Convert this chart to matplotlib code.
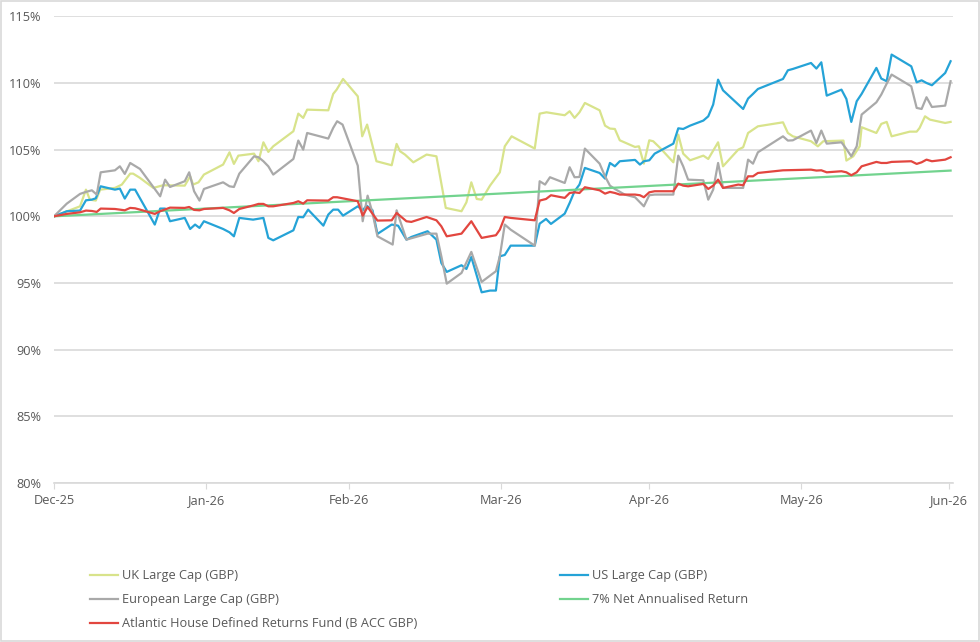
import matplotlib
matplotlib.use("Agg")
import matplotlib.pyplot as plt
from matplotlib.patches import Rectangle
from matplotlib.ticker import FuncFormatter

# x = days since start of period, y = indexed performance (%)
month_days = [0, 31, 60, 91, 121, 152, 182]
month_labels = ['Dec-25', 'Jan-26', 'Feb-26', 'Mar-26', 'Apr-26', 'May-26', 'Jun-26']

uk_days = [0, 5.3, 6.5, 7.3, 8.5, 9.4, 12.4, 13.8, 15.5, 16.1, 17.5, 20.2, 22.2, 26.6, 27.7, 28.3,
           29.4, 30.5, 34.4, 35.7, 36.6, 37.5, 40.7, 41.6, 42.6, 43.6, 44.6, 48.7, 49.7, 50.7, 51.5,
           55.8, 56.8, 57.5, 58.8, 61.8, 62.7, 63.7, 65.6, 68.7, 69.7, 70.4, 71.4, 73.1, 75.8, 77.8,
           79.7, 82.9, 83.9, 84.9, 86.0, 87.0, 88.7, 90.7, 91.7, 93.1, 97.8, 98.8, 100.2, 103.9,
           104.9, 105.9, 106.9, 108.0, 111.0, 112.1, 113.1, 114.1, 115.1, 118.2, 119.0, 120.0,
           121.1, 121.9, 123.3, 126.0, 127.0, 128.0, 129.4, 132.1, 133.1, 135.1, 136.1, 139.2,
           140.2, 141.2, 142.2, 143.2, 148.3, 149.3, 150.3, 154.0, 155.4, 156.5, 160.6, 161.2,
           162.6, 163.9, 164.3, 167.3, 168.3, 169.4, 170.4, 174.1, 175.5, 176.1, 177.2, 178.2,
           181.3, 182.4]
uk_vals = [100.0, 100.75, 102.0, 101.25, 101.18, 102.0, 102.13, 102.38, 103.2, 103.2, 102.88, 102.13,
           102.33, 102.3, 103.0, 102.38, 102.55, 103.13, 103.88, 104.8, 103.93, 104.55, 104.7, 104.13,
           105.55, 104.83, 105.25, 106.38, 107.7, 107.38, 108.0, 107.95, 109.18, 109.5, 110.3, 109.0,
           106.0, 106.88, 104.13, 103.83, 105.43, 104.88, 104.63, 104.05, 104.63, 104.5, 100.63,
           100.38, 101.05, 102.55, 101.3, 101.25, 102.3, 103.3, 105.25, 106.0, 105.08, 107.7, 107.8,
           107.58, 107.88, 107.38, 107.8, 108.5, 107.95, 106.8, 106.58, 106.55, 105.7, 105.2, 105.25,
           103.95, 105.7, 105.63, 105.13, 104.05, 106.13, 104.7, 104.2, 104.55, 104.3, 105.55, 103.75,
           105.0, 105.18, 106.25, 106.5, 106.75, 107.05, 106.25, 106.0, 105.63, 105.25, 105.63,
           105.68, 104.18, 104.5, 105.25, 106.68, 106.25, 106.93, 107.08, 106.0, 106.35, 106.35,
           106.63, 107.5, 107.25, 107.0, 107.08]

us_days = [0, 2.6, 5.3, 6.5, 7.7, 8.5, 9.5, 12.4, 13.4, 14.4, 15.5, 16.5, 18.8, 20.5, 21.6, 22.6,
           23.6, 26.6, 27.7, 28.7, 29.6, 30.5, 34.4, 35.7, 36.6, 37.7, 40.5, 42.6, 43.6, 44.6, 48.7,
           49.7, 50.7, 51.7, 54.8, 55.8, 56.8, 57.8, 58.8, 61.8, 62.8, 63.6, 64.8, 65.8, 68.7, 70.0,
           71.7, 72.7, 76.0, 77.8, 78.8, 79.9, 82.9, 83.9, 84.9, 87.0, 88.7, 89.9, 90.7, 91.7, 92.9,
           97.8, 98.8, 100.1, 101.1, 103.9, 104.9, 105.9, 106.9, 108.0, 111.0, 112.1, 113.1, 114.1,
           115.1, 118.2, 119.2, 120.0, 121.1, 122.2, 126.0, 127.0, 128.0, 129.4, 132.1, 133.1, 134.1,
           135.1, 136.1, 140.2, 141.2, 142.2, 143.2, 148.3, 149.3, 150.3, 154.0, 155.1, 156.1, 157.2,
           160.2, 161.2, 162.2, 163.3, 164.3, 167.3, 168.3, 169.4, 170.4, 174.4, 175.5, 176.5, 177.5,
           178.6, 181.3, 182.4]
us_vals = [100.0, 100.38, 100.43, 101.2, 101.25, 101.35, 102.25, 102.0, 102.08, 101.33, 102.0, 102.0,
           100.5, 99.38, 100.58, 100.58, 99.63, 99.88, 99.05, 99.38, 99.13, 99.63, 99.05, 98.8, 98.5,
           99.88, 99.75, 99.88, 98.38, 98.2, 98.95, 99.95, 99.93, 100.5, 99.3, 100.13, 100.5, 100.5,
           100.05, 100.75, 100.45, 100.8, 100.45, 98.68, 99.38, 99.3, 98.25, 98.45, 98.88, 98.25,
           96.5, 95.83, 96.33, 96.05, 96.95, 94.3, 94.43, 94.43, 97.0, 97.1, 97.8, 97.8, 99.45, 99.8,
           99.43, 100.2, 101.0, 101.88, 102.38, 103.63, 103.25, 102.83, 104.0, 103.75, 104.13,
           104.23, 103.88, 104.13, 104.2, 104.7, 105.45, 106.6, 106.55, 106.8, 107.18, 107.5, 108.38,
           110.25, 109.45, 108.05, 108.83, 109.18, 109.55, 110.3, 110.95, 111.05, 111.5, 111.08,
           111.55, 109.05, 109.5, 108.8, 107.08, 108.63, 109.18, 111.13, 110.33, 110.13, 112.13,
           111.25, 110.05, 110.2, 110.0, 109.83, 110.75, 111.63]

eu_days = [0, 2.6, 5.3, 6.5, 7.7, 8.7, 9.5, 12.4, 13.4, 14.4, 15.5, 17.5, 21.6, 22.6, 23.6, 26.6,
           27.5, 28.5, 29.6, 30.5, 34.4, 35.7, 36.6, 37.7, 40.7, 41.6, 42.6, 43.6, 44.6, 48.7, 49.7,
           50.7, 51.5, 55.8, 56.8, 57.6, 58.7, 61.8, 62.8, 63.8, 64.8, 65.8, 68.9, 69.7, 71.7, 76.0,
           77.8, 78.8, 79.9, 82.9, 84.9, 87.0, 88.7, 89.9, 90.7, 91.7, 92.9, 97.8, 98.8, 99.9, 100.9,
           103.9, 104.9, 105.9, 106.9, 108.0, 111.0, 112.1, 113.1, 114.1, 116.1, 118.2, 120.0, 121.1,
           122.2, 126.0, 127.0, 128.0, 129.0, 132.1, 133.1, 134.1, 135.1, 136.1, 140.2, 141.2, 142.2,
           143.2, 148.3, 149.3, 150.3, 154.0, 155.1, 156.1, 157.2, 160.2, 161.2, 162.2, 163.3, 164.3,
           167.3, 168.3, 169.4, 170.4, 174.4, 175.5, 176.5, 177.5, 178.6, 181.3, 182.4]
eu_vals = [100.0, 100.95, 101.68, 101.83, 101.95, 101.63, 103.3, 103.45, 103.75, 103.18, 104.0, 103.55,
           101.5, 102.75, 102.2, 102.63, 103.3, 101.88, 101.18, 102.05, 102.55, 102.25, 102.2, 103.2,
           104.5, 104.43, 104.13, 103.75, 103.13, 104.3, 105.68, 105.0, 106.25, 105.83, 106.63,
           107.13, 106.88, 103.8, 99.63, 101.55, 100.25, 98.5, 97.88, 100.45, 98.25, 98.7, 98.7, 97.0,
           94.95, 95.75, 97.33, 95.08, 95.55, 95.88, 97.0, 99.38, 99.0, 97.8, 102.63, 102.38, 102.93,
           102.5, 103.68, 102.93, 102.95, 105.08, 103.95, 103.0, 102.3, 102.05, 101.63, 101.43,
           100.75, 101.58, 101.63, 101.63, 104.55, 103.75, 102.75, 102.7, 101.25, 102.0, 104.0,
           102.13, 102.13, 104.25, 103.95, 104.8, 106.0, 105.68, 105.7, 106.43, 105.5, 106.43,
           105.45, 105.55, 105.05, 104.5, 105.25, 107.63, 108.55, 109.13, 109.95, 110.63, 109.75,
           108.13, 108.05, 108.93, 108.2, 108.3, 110.13]

target_days = [0, 182.4]
target_vals = [100.0, 103.43]

ah_days = [0, 2.6, 5.3, 6.5, 7.7, 8.7, 9.5, 12.4, 14.4, 15.5, 16.5, 17.5, 20.5, 21.6, 23.6, 26.6,
           27.5, 28.5, 29.6, 30.5, 34.4, 35.7, 36.6, 37.7, 40.7, 41.6, 42.6, 43.6, 44.6, 48.7, 49.7,
           50.7, 51.5, 55.8, 56.8, 57.6, 61.8, 62.8, 63.8, 65.8, 68.7, 69.7, 71.7, 72.7, 75.8, 77.8,
           78.8, 79.9, 82.9, 84.9, 87.0, 88.7, 89.9, 90.7, 91.7, 92.9, 97.8, 98.8, 100.1, 101.1,
           103.9, 104.9, 105.9, 106.9, 108.0, 111.0, 112.1, 113.1, 114.1, 115.1, 118.2, 119.2, 120.0,
           121.1, 122.2, 126.0, 127.0, 128.0, 129.0, 132.1, 133.1, 134.1, 135.1, 136.1, 139.2, 140.2,
           141.2, 142.2, 143.2, 148.3, 154.0, 155.1, 156.1, 157.2, 160.2, 161.2, 162.2, 163.3, 164.3,
           167.3, 168.3, 169.4, 170.4, 174.4, 175.5, 176.5, 177.5, 178.6, 181.3, 182.4]
ah_vals = [100.0, 100.18, 100.3, 100.43, 100.4, 100.33, 100.58, 100.55, 100.45, 100.63, 100.6, 100.5,
           100.18, 100.38, 100.65, 100.63, 100.7, 100.48, 100.45, 100.55, 100.63, 100.45, 100.25,
           100.55, 100.83, 100.93, 100.93, 100.75, 100.75, 101.0, 101.13, 100.95, 101.2, 101.18,
           101.43, 101.43, 101.13, 100.05, 100.7, 99.68, 99.7, 100.25, 99.63, 99.58, 99.95, 99.7,
           99.25, 98.5, 98.7, 99.63, 98.38, 98.5, 98.58, 99.0, 99.95, 99.88, 99.7, 101.18, 101.3,
           101.58, 101.38, 101.75, 101.8, 101.75, 102.18, 101.95, 101.7, 101.83, 101.75, 101.63,
           101.63, 101.58, 101.43, 101.8, 101.88, 101.88, 102.45, 102.3, 102.25, 102.43, 102.05,
           102.3, 102.75, 102.13, 102.38, 102.33, 103.0, 103.0, 103.25, 103.45, 103.5, 103.43,
           103.45, 103.3, 103.38, 103.3, 103.08, 103.3, 103.75, 104.08, 104.0, 104.0, 104.08,
           104.13, 103.93, 104.05, 104.25, 104.13, 104.25, 104.43]

plt.rcParams['font.family'] = ['Open Sans', 'DejaVu Sans']

fig = plt.figure(figsize=(9.8, 6.42), dpi=100)
ax = fig.add_axes([0.0551, 0.2477, 0.9169, 0.7269])

lw = 1.6
l_uk, = ax.plot(uk_days, uk_vals, color='#d8e38b', lw=lw, label='UK Large Cap (GBP)')
l_us, = ax.plot(us_days, us_vals, color='#25a3d7', lw=lw, label='US Large Cap (GBP)')
l_eu, = ax.plot(eu_days, eu_vals, color='#a9a9a9', lw=lw, label='European Large Cap (GBP)')
l_tg, = ax.plot(target_days, target_vals, color='#72d38e', lw=lw, label='7% Net Annualised Return')
l_ah, = ax.plot(ah_days, ah_vals, color='#e2463f', lw=lw, label='Atlantic House Defined Returns Fund (B ACC GBP)')

ax.set_xlim(0, 182.8)
ax.set_ylim(80, 115)
ax.set_yticks(range(80, 116, 5))
ax.yaxis.set_major_formatter(FuncFormatter(lambda v, p: '{:.0f}%'.format(v)))
ax.set_xticks(month_days)
ax.set_xticklabels(month_labels)

ax.grid(axis='y', color='#d9d9d9', lw=1.2)
ax.set_axisbelow(True)
for s in ['top', 'right', 'left']:
    ax.spines[s].set_visible(False)
ax.spines['bottom'].set_color('#d9d9d9')
ax.spines['bottom'].set_linewidth(1.2)
ax.tick_params(axis='y', length=0, pad=9, labelsize=9.2, labelcolor='#595959')
ax.tick_params(axis='x', length=4, color='#d9d9d9', pad=4, labelsize=9.2, labelcolor='#595959')

leg_kw = dict(loc='upper left', frameon=False, borderpad=0, borderaxespad=0,
              handlelength=2.2, handletextpad=0.3, labelspacing=0.86,
              fontsize=9.2, labelcolor='#595959')
fig.legend([l_uk, l_eu, l_ah], [l.get_label() for l in [l_uk, l_eu, l_ah]],
           bbox_to_anchor=(90 / 980, 1 - 569 / 642), **leg_kw)
fig.legend([l_us, l_tg], [l.get_label() for l in [l_us, l_tg]],
           bbox_to_anchor=(560 / 980, 1 - 569 / 642), **leg_kw)

fig.patches.append(Rectangle((0.001, 0.001), 0.998, 0.997, transform=fig.transFigure,
                             fill=False, edgecolor='#d9d9d9', lw=1.2))

fig.savefig('out.png', dpi=100)
